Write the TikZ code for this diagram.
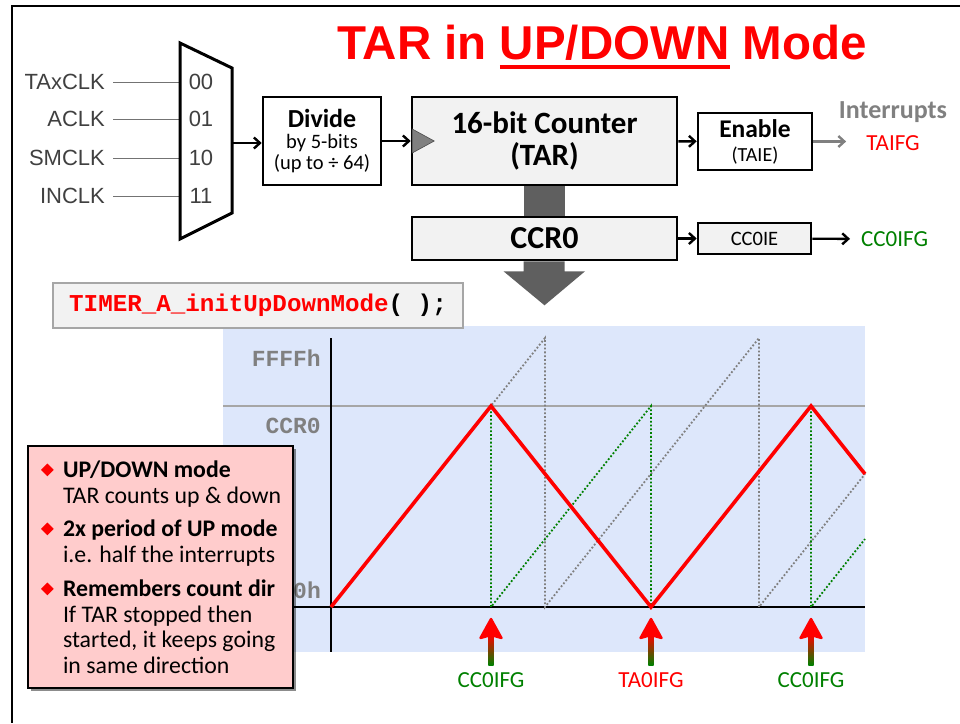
\documentclass[tikz,border=0pt]{standalone}
\usepackage{fontspec}
\setmainfont{Carlito}
\setmonofont{Liberation Mono}
\newfontfamily\arialfont{Liberation Sans}
\usepackage{tikz}
\usetikzlibrary{arrows.meta, positioning, shadows, calc}
\definecolor{tiRed}{RGB}{255,0,0}
\definecolor{tiGreen}{RGB}{0,128,0}
\definecolor{tiGray}{RGB}{128,128,128}
\definecolor{blockGray}{RGB}{95,95,95}
\definecolor{boxFill}{RGB}{242,242,242}
\definecolor{plotBlue}{RGB}{221,231,251}
\definecolor{notePink}{RGB}{255,204,204}

\newcommand{\fs}[2]{\fontsize{#1}{#2}\selectfont}
\newsavebox{\ulbox}
\newcommand{\tarul}[1]{\sbox\ulbox{#1}\rlap{\rule[-9pt]{\wd\ulbox}{4pt}}\usebox\ulbox}
\newcommand{\bul}{\makebox[28.5pt][l]{\hspace{6.5pt}\textcolor{tiRed}{\raisebox{1.2pt}{\rotatebox{45}{\rule{9pt}{9pt}}}}}}
\newcommand{\ind}{\hspace*{28.5pt}}
% interrupt flag arrow, pointing up at an event on the time axis
\newcommand{\irqarrow}[1]{%
  \shade[top color=tiRed, bottom color=tiGreen] ($(#1)+(-2.7,28)$) rectangle ($(#1)+(2.7,58)$);
  \filldraw[tiRed, line width=2.4pt, line join=round] ($(#1)+(0,12)$) -- ($(#1)+(10.5,31)$)
    -- ($(#1)+(0,28)$) -- ($(#1)+(-10.5,31)$) -- cycle;}

\begin{document}
\begin{tikzpicture}[x=1pt, y=-1pt,
    block/.style={rectangle, draw=black, line width=2.6pt, inner sep=0pt, align=center},
    arrow/.style={-{Straight Barb[length=6pt,width=11pt]}, line width=2.4pt},
    grayarrow/.style={arrow, draw=tiGray},
    clklbl/.style={font=\arialfont\fs{22}{24}, text=black!75, inner sep=0pt},
    feed/.style={draw=black!55, line width=1pt},
    flag/.style={font=\fs{23}{24}, inner sep=0pt},
    axislbl/.style={font=\ttfamily\bfseries\fs{23}{24}, text=tiGray, anchor=east, inner sep=0pt},
    notebox/.style={rectangle, draw=black, line width=2.6pt, fill=notePink,
        minimum width=265pt, minimum height=242pt, text width=252pt, inner xsep=6.5pt,
        align=flush left, font=\fs{23.8}{25.5},
        drop shadow={shadow xshift=3pt, shadow yshift=-3pt, opacity=.45, fill=black}}
]
\useasboundingbox (0,0) rectangle (960,723);
\draw[line width=2.6pt] (960,6) -- (12,6) -- (12,723);

\node[font=\arialfont\bfseries\fs{47.5}{48}, text=tiRed, anchor=base, inner sep=0pt] (title)
    at (602,59.5) {TAR in \tarul{UP/DOWN} Mode};

% clock select
\node[clklbl, anchor=east] (taxclk) at (105,82) {TAxCLK};
\node[clklbl, anchor=east] (aclk) at (105,119) {ACLK};
\node[clklbl, anchor=east] (smclk) at (105,158) {SMCLK};
\node[clklbl, anchor=east] (inclk) at (105,196) {INCLK};
\draw[feed] ([xshift=8pt]taxclk.east) -- (181,82);
\draw[feed] ([xshift=8pt]aclk.east) -- (181,119);
\draw[feed] ([xshift=8pt]smclk.east) -- (181,158);
\draw[feed] ([xshift=8pt]inclk.east) -- (181,196);
\draw[line width=3pt, fill=white] (180,43) -- (232,68) -- (232,213) -- (180,239) -- cycle;
\coordinate (muxout) at (232,143);
\node[clklbl] (sel0) at (201,82) {00};
\node[clklbl] (sel1) at (201,119) {01};
\node[clklbl] (sel2) at (201,158) {10};
\node[clklbl] (sel3) at (201,196) {11};

\node[block, fill=white, minimum width=118pt, minimum height=88pt, font=\fs{20.5}{21}] (divide)
    at (322,141) {{\bfseries\fs{26}{24}Divide}\\by 5-bits\\(up to ÷ 64)};
\node[block, fill=boxFill, minimum width=265pt, minimum height=88pt, font=\bfseries\fs{31}{32}] (counter)
    at (544.5,141) {16-bit Counter\\(TAR)};
\fill[tiGray, draw=black!70, line width=.6pt] (counter.west) ++(1.5,-12) -- ++(22,12) -- ++(-22,12) -- cycle;
\node[block, fill=white, minimum width=114pt, minimum height=57pt, font=\fs{20}{24}] (enable)
    at (755,141.5) {{\bfseries\fs{25.5}{24}Enable}\\(TAIE)};
\node[font=\bfseries\fs{26}{26}, text=tiGray, inner sep=0pt] (irqhead) at (893,112) {Interrupts};
\node[font=\fs{23}{23}, text=tiRed, inner sep=0pt] (taifg) at (893,143) {TAIFG};

\node[block, fill=boxFill, minimum width=265pt, minimum height=43pt, font=\bfseries\fs{32}{32}] (ccr0)
    at (544.5,238.5) {CCR0};
\node[block, fill=boxFill, minimum width=113pt, minimum height=31pt, font=\fs{20.5}{21}] (ccie)
    at (754.5,238.5) {CC0IE};
\node[font=\fs{23}{23}, text=tiGreen, anchor=west, inner sep=0pt] (ccifg) at (861,239) {CC0IFG};

\draw[arrow] (muxout) -- (muxout -| divide.west);
\draw[arrow] (divide) -- (counter);
\draw[arrow] (counter) -- (enable);
\draw[grayarrow, shorten >=20pt] (enable.east) -- (enable.east -| taifg.west);
\draw[arrow] (ccr0) -- (ccie);
\draw[arrow, shorten >=11pt] (ccie) -- (ccifg);

\fill[blockGray] ($(counter.south)+(-21,0)$) rectangle ($(ccr0.north)+(20,0)$);
\fill[blockGray] ($(ccr0.south)+(-21,0)$) -- ++(0,10) -- ++(-20,0) -- ($(ccr0.south)+(0,44)$)
    -- ($(ccr0.south)+(40.5,10)$) -- ++(-20.5,0) -- ($(ccr0.south)+(20,0)$) -- cycle;

% timing plot
\fill[plotBlue] (223,326) rectangle (865,652);
\node[draw=black!35, line width=1.2pt, fill=boxFill, minimum width=410pt, minimum height=45pt,
    font=\ttfamily\bfseries\fs{24.2}{24}] (code) at (258,305.5)
    {\textcolor{tiRed}{TIMER\_A\_initUpDownMode}( );};
\draw[black!35, line width=1.5pt] (223,406) -- (865,406);
\draw[line width=1.2pt] (223,607) -- (865,607);
\draw[line width=1.2pt] (331,338) -- (331,652);
\node[axislbl] (ffff) at (321,358) {FFFFh};
\node[axislbl] (ccrlvl) at (321,426) {CCR0};
\node[axislbl] (zero) at (321,590) {0h};
\draw[tiGray, line width=1.8pt, dotted] (331,607) -- (545,338) -- (545,607) -- (759,338) -- (759,607) -- (865,474);
\draw[tiGreen, line width=1.8pt, dotted] (331,607) -- (491,406) -- (491,607) -- (651,406) -- (651,607)
    -- (811,406) -- (811,607) -- (865,539);
\draw[tiRed, line width=3.6pt] (331,607) -- (491,406) -- (651,607) -- (811,406) -- (865,474);

\coordinate (evA) at (491,607);
\coordinate (evB) at (651,607);
\coordinate (evC) at (811,607);
\node[flag, text=tiGreen] (flagA) at (491,680) {CC0IFG};
\node[flag, text=tiRed] (flagB) at (651,680) {TA0IFG};
\node[flag, text=tiGreen] (flagC) at (811,680) {CC0IFG};
\irqarrow{evA}
\irqarrow{evB}
\irqarrow{evC}

\node[notebox] (notes) at (160.5,567) {%
    \bul\textbf{UP/DOWN mode}\\
    \ind TAR counts up \& down\\[8pt]
    \bul\textbf{2x period of UP mode}\\
    \ind i.e. half the interrupts\\[9pt]
    \bul\textbf{Remembers count dir}\\
    \ind If TAR stopped then\\
    \ind started, it keeps going\\
    \ind in same direction};
\end{tikzpicture}
\end{document}
